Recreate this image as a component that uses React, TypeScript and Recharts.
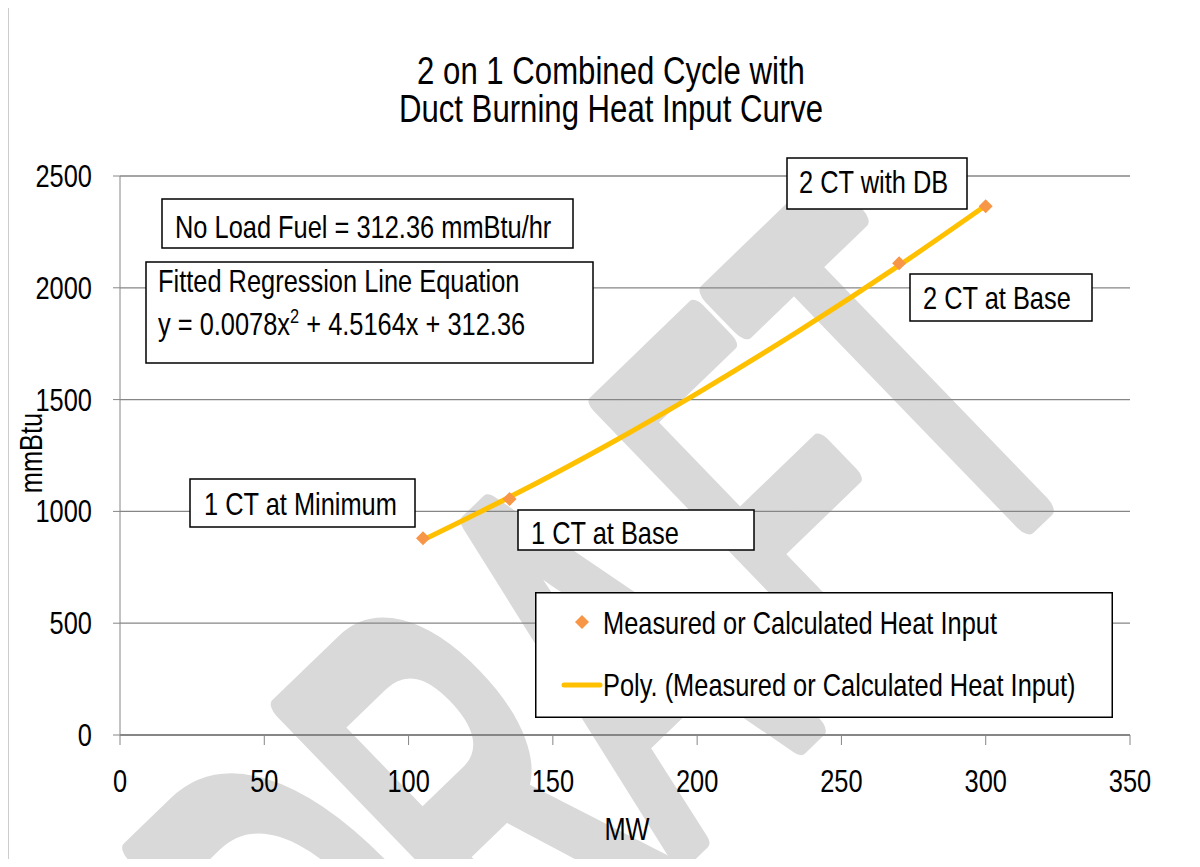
import React from 'react';
import { CartesianGrid, ComposedChart, Legend, Line, Scatter, XAxis, YAxis } from 'recharts';

// measured points
const measuredMW = [105, 135, 270, 300];
const measuredHeat = [880, 1055, 2110, 2365];
// polynomial trendline
const polyMW = [105, 135, 170, 200, 235, 270, 300];
const polyHeat = [872, 1064, 1305, 1528, 1805, 2100, 2368];

const xTicks = [0, 50, 100, 150, 200, 250, 300, 350];
const yTicks = [0, 500, 1000, 1500, 2000, 2500];

const titleLines = ['2 on 1 Combined Cycle with', 'Duct Burning Heat Input Curve'];
const seriesName = 'Measured or Calculated Heat Input';
const trendName = 'Poly. (Measured or Calculated Heat Input)';
const noteTexts = ['No Load Fuel = 312.36 mmBtu/hr', '1 CT at Minimum', '1 CT at Base', '2 CT with DB', '2 CT at Base'];

const FONT = "'Liberation Sans', Arial, sans-serif";
const NARROW = 0.82; // Arial Narrow look: squeeze Liberation Sans sideways
const GRID = '#868686';
const ORANGE = '#F79646';
const GOLD = '#FFC000';
const WATERMARK = '#d9d9d9';

const measured = measuredMW.map((x, i) => ({ x, y: measuredHeat[i] }));
const poly = polyMW.map((x, i) => ({ x, y: polyHeat[i] }));

// box layout for the one-line notes: [x, y, w, h, textX, baseline]
const noteBoxes = [
  [162, 199, 411, 49, 175, 238],
  [190, 479, 225, 48, 204, 515],
  [518, 510, 236, 40, 531, 544],
  [787, 158, 180, 51, 799, 193],
  [910, 274, 182, 47, 923, 309],
];

function NText({ x, y, size = 31, anchor = 'start', dy, rotate = 0, children }: any) {
  return (
    <g transform={`translate(${x},${y}) rotate(${rotate}) scale(${NARROW},1)`}>
      <text x={0} y={0} dy={dy} textAnchor={anchor} fontSize={size} fontFamily={FONT} fill="#000">
        {children}
      </text>
    </g>
  );
}

function XTick(props: any) {
  const { x, y, payload } = props;
  return <NText x={x} y={y} anchor="middle" dy="0.71em">{payload.value}</NText>;
}

function YTick(props: any) {
  const { x, y, payload } = props;
  return <NText x={x} y={y} anchor="end" dy="0.355em">{payload.value}</NText>;
}

function Diamond(props: any) {
  const { cx, cy } = props;
  const r = 7;
  return <polygon points={`${cx},${cy - r} ${cx + r},${cy} ${cx},${cy + r} ${cx - r},${cy}`} fill={ORANGE} />;
}

function LegendBox() {
  return (
    <svg width={578} height={126} style={{ display: 'block' }}>
      <rect x={0.75} y={0.75} width={576.5} height={124.5} fill="#fff" stroke="#000" strokeWidth={1.5} />
      <polygon points="47,23 54,30 47,37 40,30" fill={ORANGE} />
      <NText x={68} y={42}>{seriesName}</NText>
      <line x1={29} x2={65} y1={93} y2={93} stroke={GOLD} strokeWidth={5} strokeLinecap="round" />
      <NText x={68} y={104}>{trendName}</NText>
    </svg>
  );
}

export default function App() {
  return (
    <div style={{ position: 'relative', width: 1200, height: 867, margin: -8, overflow: 'hidden', background: '#fff' }}>
      {/* DRAFT watermark behind the chart */}
      <svg width={1200} height={867} style={{ position: 'absolute', left: 0, top: 0 }}>
        <g transform="translate(380,1143) rotate(-44) scale(0.52,1)">
          <text
            x={0}
            y={0}
            fontSize={550}
            fontFamily={FONT}
            fill={WATERMARK}
            stroke={WATERMARK}
            strokeWidth={24}
            strokeLinejoin="round"
            vectorEffect="non-scaling-stroke"
          >
            DRA<tspan dx={79}>F</tspan>T
          </text>
        </g>
      </svg>

      <div style={{ position: 'absolute', left: 0, top: 0 }}>
        <ComposedChart width={1200} height={867} margin={{ top: 176, right: 70, bottom: 72, left: 60 }}>
          <CartesianGrid vertical={false} stroke={GRID} strokeWidth={1.3} />
          <XAxis
            type="number"
            dataKey="x"
            domain={[0, 350]}
            ticks={xTicks}
            interval={0}
            height={60}
            tickSize={10}
            tickMargin={25}
            axisLine={{ stroke: GRID, strokeWidth: 2 }}
            tickLine={{ stroke: GRID }}
            tick={<XTick />}
          />
          <YAxis
            type="number"
            dataKey="y"
            domain={[0, 2500]}
            ticks={yTicks}
            interval={0}
            width={60}
            tickSize={7}
            tickMargin={21}
            axisLine={{ stroke: GRID }}
            tickLine={{ stroke: GRID }}
            tick={<YTick />}
          />
          <Scatter name={seriesName} data={measured} dataKey="y" fill={ORANGE} shape={<Diamond />} isAnimationActive={false} />
          <Line
            name={trendName}
            data={poly}
            dataKey="y"
            type="monotone"
            stroke={GOLD}
            strokeWidth={5}
            dot={false}
            activeDot={false}
            isAnimationActive={false}
          />
          <Legend
            layout="vertical"
            align="center"
            verticalAlign="middle"
            wrapperStyle={{ position: 'absolute', left: 535, top: 592, width: 578, height: 126 }}
            content={() => <LegendBox />}
          />
        </ComposedChart>
      </div>

      {/* title, axis titles, notes and frame */}
      <svg width={1200} height={867} style={{ position: 'absolute', left: 0, top: 0, pointerEvents: 'none' }}>
        <path d="M7.5 867 V4.5 H1200" fill="none" stroke="#3a3a3a" strokeWidth={1.5} />
        {titleLines.map((t, i) => (
          <NText key={t} x={611} y={84 + i * 38} size={38} anchor="middle">{t}</NText>
        ))}
        <NText x={627} y={840} anchor="middle">MW</NText>
        <NText x={42} y={453} anchor="middle" rotate={-90}>mmBtu</NText>

        {noteBoxes.map(([x, y, w, h, tx, ty], i) => (
          <g key={i}>
            <rect x={x} y={y} width={w} height={h} fill="#fff" stroke="#000" strokeWidth={1.5} />
            <NText x={tx} y={ty}>{noteTexts[i]}</NText>
          </g>
        ))}

        <rect x={146} y={262} width={447} height={101} fill="#fff" stroke="#000" strokeWidth={1.5} />
        <NText x={158} y={292}>Fitted Regression Line Equation</NText>
        <NText x={158} y={335}>
          y = 0.0078x<tspan fontSize={20} dy={-12}>2</tspan>
          <tspan dy={12}> + 4.5164x + 312.36</tspan>
        </NText>
      </svg>
    </div>
  );
}
